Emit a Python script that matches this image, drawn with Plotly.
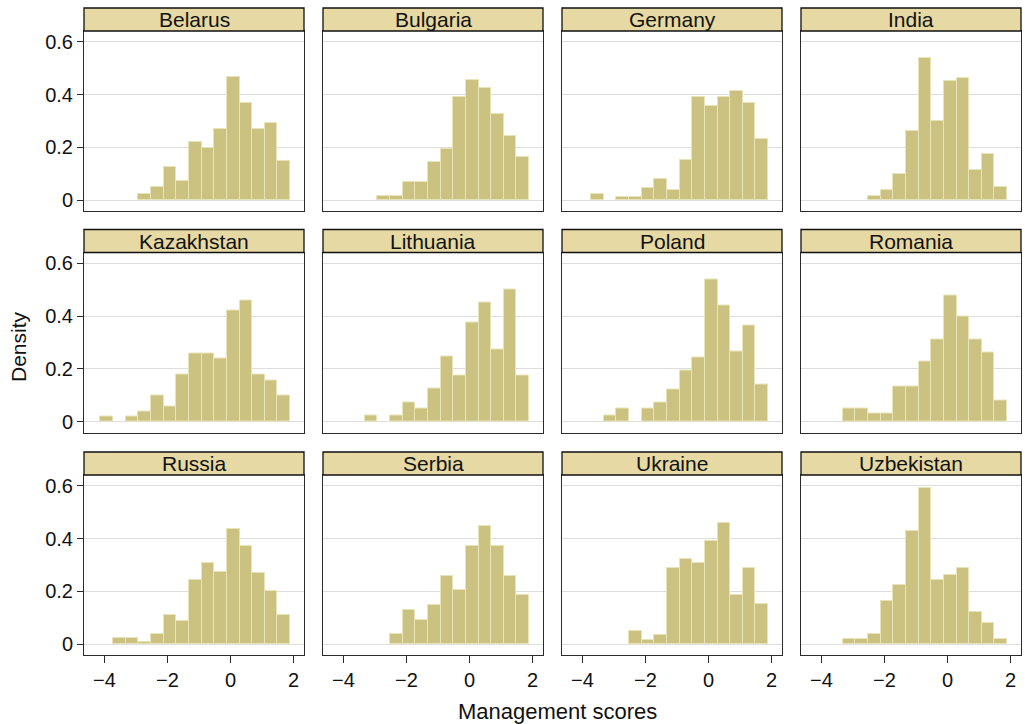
import plotly.graph_objects as go

# Histogram bins shared by all countries (Stata-style common bins)
bin_start = -4.13
bin_width = 0.4013
n_bins = 15

countries = ["Belarus", "Bulgaria", "Germany", "India",
             "Kazakhstan", "Lithuania", "Poland", "Romania",
             "Russia", "Serbia", "Ukraine", "Uzbekistan"]

belarus    = [0, 0, 0, 0.026, 0.051, 0.125, 0.075, 0.222, 0.198, 0.270, 0.468, 0.367, 0.270, 0.294, 0.150]
bulgaria   = [0, 0, 0, 0.018, 0.018, 0.068, 0.068, 0.147, 0.195, 0.391, 0.456, 0.425, 0.327, 0.244, 0.164]
germany    = [0, 0.026, 0, 0.0125, 0.0125, 0.048, 0.081, 0.038, 0.152, 0.391, 0.357, 0.391, 0.415, 0.367, 0.233]
india      = [0, 0, 0, 0, 0.015, 0.040, 0.101, 0.262, 0.539, 0.301, 0.451, 0.462, 0.115, 0.175, 0.051]
kazakhstan = [0.020, 0, 0.020, 0.040, 0.101, 0.059, 0.179, 0.259, 0.259, 0.239, 0.420, 0.459, 0.179, 0.158, 0.101]
lithuania  = [0, 0, 0.025, 0, 0.025, 0.074, 0.050, 0.126, 0.249, 0.175, 0.377, 0.450, 0.274, 0.502, 0.175]
poland     = [0, 0, 0.024, 0.050, 0, 0.050, 0.072, 0.121, 0.194, 0.243, 0.537, 0.440, 0.267, 0.365, 0.143]
romania    = [0, 0, 0.050, 0.050, 0.031, 0.031, 0.132, 0.132, 0.230, 0.313, 0.477, 0.397, 0.313, 0.264, 0.082]
russia     = [0, 0.026, 0.026, 0.009, 0.039, 0.113, 0.088, 0.243, 0.307, 0.274, 0.435, 0.372, 0.268, 0.201, 0.113]
serbia     = [0, 0, 0, 0, 0.038, 0.131, 0.094, 0.150, 0.260, 0.204, 0.372, 0.447, 0.372, 0.260, 0.186]
ukraine    = [0, 0, 0, 0, 0.052, 0.016, 0.034, 0.288, 0.322, 0.306, 0.390, 0.459, 0.187, 0.288, 0.153]
uzbekistan = [0, 0, 0.019, 0.019, 0.039, 0.165, 0.225, 0.428, 0.591, 0.244, 0.264, 0.287, 0.122, 0.081, 0.019]

series = [belarus, bulgaria, germany, india,
          kazakhstan, lithuania, poland, romania,
          russia, serbia, ukraine, uzbekistan]

x_ticks = [-4, -2, 0, 2]
y_ticks = [0, 0.2, 0.4, 0.6]
y_tick_text = ["0", "0.2", "0.4", "0.6"]

# Page geometry (pixels)
W, H = 1025, 724
col_left = [84, 323, 562, 801]
row_top = [31, 252.5, 475]
panel_w, panel_h = 220, 180
strip_h = 23

BAR_FILL = "#CBC281"
BAR_EDGE = "#E9E3B8"
STRIP_FILL = "#E6D9A3"
AXIS_COLOR = "#2b2b2b"
GRID_COLOR = "#DEDEDE"
FONT = "Liberation Sans, Arial, Helvetica, sans-serif"

centers = [bin_start + bin_width * (k + 0.5) for k in range(n_bins)]

fig = go.Figure()
shapes, annotations = [], []

for i, (name, vals) in enumerate(zip(countries, series)):
    r, c = divmod(i, 4)
    n = i + 1
    xa = "x" if n == 1 else f"x{n}"
    ya = "y" if n == 1 else f"y{n}"
    heights = [v if v > 0 else None for v in vals]
    fig.add_trace(go.Bar(
        x=centers, y=heights, width=[bin_width] * n_bins,
        xaxis=xa, yaxis=ya,
        marker=dict(color=BAR_FILL, line=dict(color=BAR_EDGE, width=1)),
        showlegend=False, hoverinfo="skip",
    ))

    left = col_left[c]
    top = row_top[r]
    x_dom = [left / W, (left + panel_w) / W]
    y_dom = [(H - top - panel_h) / H, (H - top) / H]
    bottom_row = r == 2
    first_col = c == 0

    fig.layout[f"xaxis{'' if n == 1 else n}"] = dict(
        domain=x_dom, anchor=ya, range=[-4.65, 2.33],
        showline=True, mirror=True, linecolor=AXIS_COLOR, linewidth=1,
        showgrid=False, zeroline=False,
        tickvals=x_ticks, ticks="outside" if bottom_row else "",
        ticklen=7, tickcolor=AXIS_COLOR,
        showticklabels=bottom_row,
        tickfont=dict(family=FONT, size=20, color="#111111"),
        fixedrange=True,
    )
    fig.layout[f"yaxis{'' if n == 1 else n}"] = dict(
        domain=y_dom, anchor=xa, range=[-0.04, 0.64],
        showline=True, mirror=True, linecolor=AXIS_COLOR, linewidth=1,
        showgrid=True, gridcolor=GRID_COLOR, gridwidth=1, zeroline=False,
        tickvals=y_ticks, ticktext=y_tick_text,
        ticks="outside" if first_col else "", ticklen=6, tickcolor=AXIS_COLOR,
        showticklabels=first_col,
        tickfont=dict(family=FONT, size=20, color="#111111"),
        fixedrange=True,
    )

    # Title strip above each panel
    shapes.append(dict(
        type="rect", xref="paper", yref="paper",
        x0=left / W, x1=(left + panel_w) / W,
        y0=(H - top) / H, y1=(H - top + strip_h) / H,
        fillcolor=STRIP_FILL, line=dict(color="#111111", width=1.3), layer="above",
    ))
    annotations.append(dict(
        text=name, xref="paper", yref="paper",
        x=(left + panel_w / 2) / W, y=(H - top + strip_h / 2) / H,
        xanchor="center", yanchor="middle", showarrow=False,
        font=dict(family=FONT, size=21, color="#111111"),
    ))

annotations.append(dict(
    text="Density", xref="paper", yref="paper",
    x=18 / W, y=(H - 347) / H, textangle=-90,
    xanchor="center", yanchor="middle", showarrow=False,
    font=dict(family=FONT, size=21, color="#111111"),
))
annotations.append(dict(
    text="Management scores", xref="paper", yref="paper",
    x=557 / W, y=(H - 711) / H,
    xanchor="center", yanchor="middle", showarrow=False,
    font=dict(family=FONT, size=22, color="#111111"),
))

fig.update_layout(
    width=W, height=H,
    margin=dict(l=0, r=0, t=0, b=0),
    paper_bgcolor="white", plot_bgcolor="white",
    bargap=0, barmode="overlay",
    shapes=shapes, annotations=annotations,
)

fig.write_html("out.html")
